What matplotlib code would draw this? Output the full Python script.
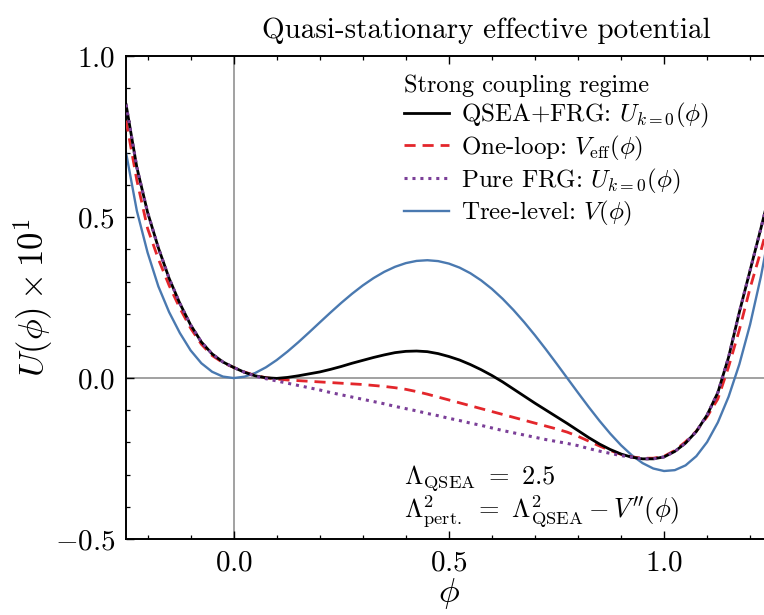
import numpy as np
import matplotlib
matplotlib.use("Agg")
import matplotlib.pyplot as plt
from matplotlib.ticker import MultipleLocator

# field values (shared grid for all curves)
phi = np.round(np.arange(-0.25, 1.2501, 0.025), 3)

# Tree-level V(phi), x10
tree_level = [
    0.70, 0.52, 0.39, 0.285, 0.205, 0.14, 0.086, 0.046, 0.0195, 0.0046,
    0.0, 0.0042, 0.0157, 0.0334, 0.0559, 0.0822, 0.111, 0.1415, 0.1727, 0.2036,
    0.2336, 0.2618, 0.2877, 0.3106, 0.3301, 0.3457, 0.3571, 0.364, 0.3661, 0.3634,
    0.3557, 0.3431, 0.3257, 0.3035, 0.277, 0.2462, 0.2116, 0.1737, 0.133, 0.09,
    0.0454, 0.0, -0.0454, -0.090, -0.1328, -0.1727, -0.2087, -0.2396, -0.2642, -0.281,
    -0.2888, -0.2861, -0.2713, -0.2427, -0.1989, -0.1379, -0.0579, 0.043, 0.1667, 0.3152,
    0.4908,
]

# QSEA+FRG U_{k=0}(phi), x10
qsea_frg = [
    0.85, 0.655, 0.515, 0.405, 0.31, 0.232, 0.165, 0.112, 0.075, 0.05,
    0.033, 0.018, 0.007, 0.001, -0.001, 0.002, 0.007, 0.013, 0.019, 0.027,
    0.036, 0.046, 0.055, 0.064, 0.072, 0.079, 0.083, 0.084, 0.082, 0.076,
    0.067, 0.056, 0.042, 0.026, 0.008, -0.012, -0.034, -0.056, -0.078, -0.099,
    -0.12, -0.141, -0.163, -0.185, -0.205, -0.222, -0.236, -0.246, -0.251, -0.251,
    -0.245, -0.228, -0.202, -0.166, -0.115, -0.045, 0.065, 0.205, 0.335, 0.465,
    0.60,
]

# One-loop V_eff(phi), x10
one_loop = [
    0.80, 0.615, 0.465, 0.37, 0.288, 0.217, 0.155, 0.105, 0.07, 0.048,
    0.033, 0.019, 0.008, 0.001, -0.003, -0.006, -0.008, -0.01, -0.012, -0.014,
    -0.016, -0.018, -0.02, -0.023, -0.026, -0.03, -0.035, -0.042, -0.05, -0.059,
    -0.068, -0.077, -0.086, -0.095, -0.104, -0.113, -0.122, -0.131, -0.14, -0.149,
    -0.158, -0.168, -0.181, -0.196, -0.211, -0.225, -0.237, -0.245, -0.249, -0.249,
    -0.243, -0.225, -0.198, -0.165, -0.12, -0.065, 0.035, 0.15, 0.28, 0.395,
    0.52,
]

# Pure FRG U_{k=0}(phi), x10
pure_frg = [
    0.85, 0.655, 0.515, 0.405, 0.31, 0.232, 0.165, 0.112, 0.075, 0.05,
    0.033, 0.018, 0.006, -0.002, -0.009, -0.016, -0.023, -0.030, -0.037, -0.045,
    -0.052, -0.059, -0.066, -0.073, -0.080, -0.088, -0.095, -0.102, -0.110, -0.117,
    -0.125, -0.132, -0.140, -0.147, -0.155, -0.163, -0.170, -0.177, -0.184, -0.191,
    -0.197, -0.203, -0.210, -0.219, -0.227, -0.234, -0.241, -0.246, -0.251, -0.251,
    -0.245, -0.228, -0.202, -0.166, -0.115, -0.045, 0.065, 0.205, 0.335, 0.465,
    0.60,
]

plt.rcParams['font.family'] = 'serif'
plt.rcParams['font.serif'] = ['cmr10']
plt.rcParams['mathtext.fontset'] = 'cm'
plt.rcParams['axes.formatter.use_mathtext'] = True

fig = plt.figure(figsize=(7.64, 6.15), dpi=100)
ax = fig.add_axes([0.165, 0.1236, 0.845, 0.785])

ax.axhline(0, color='#888888', lw=1.1, zorder=1)
ax.axvline(0, color='#888888', lw=1.1, zorder=1)

ax.plot(phi, qsea_frg, color='black', lw=2.0, label=r'QSEA+FRG: $U_{k=0}(\phi)$', zorder=4)
ax.plot(phi, one_loop, color='#e3262b', lw=2.0, ls=(0, (4, 2.5)), label=r'One-loop: $V_{\rm eff}(\phi)$', zorder=3)
ax.plot(phi, pure_frg, color='#7b3f98', lw=2.2, ls=(0, (1, 1.6)), label=r'Pure FRG: $U_{k=0}(\phi)$', zorder=5)
ax.plot(phi, tree_level, color='#4a79b0', lw=1.7, label=r'Tree-level: $V(\phi)$', zorder=2)

ax.set_xlim(-0.25, 1.25)
ax.set_ylim(-0.5, 1.0)
ax.xaxis.set_major_locator(MultipleLocator(0.5))
ax.xaxis.set_minor_locator(MultipleLocator(0.1))
ax.yaxis.set_major_locator(MultipleLocator(0.5))
ax.yaxis.set_minor_locator(MultipleLocator(0.1))
ax.tick_params(which='both', direction='in', top=True, right=True, labelsize=21)
ax.tick_params(which='major', length=6, width=1.0, pad=8)
ax.tick_params(which='minor', length=3, width=0.9)
for s in ax.spines.values():
    s.set_linewidth(1.4)

ax.set_xlabel(r'$\phi$', fontsize=25, labelpad=0)
ax.set_ylabel(r'$U(\phi)\times10^{1}$', fontsize=25, labelpad=0)
ax.set_title('Quasi-stationary effective potential', fontsize=21, pad=13, x=0.558)

leg = ax.legend(loc='upper left', bbox_to_anchor=(0.431, 0.962), frameon=False,
                fontsize=18, title='Strong coupling regime', title_fontsize=17.5,
                alignment='left', borderaxespad=0, borderpad=0,
                handlelength=1.8, handletextpad=0.45, labelspacing=0.15)

note = (r'$\Lambda_{\rm QSEA}\ =\ 2.5$' + '\n'
        + r"$\Lambda^2_{\rm pert.}\ =\ \Lambda^2_{\rm QSEA}-V''(\phi)$")
ax.text(0.431, 0.0455, note, transform=ax.transAxes, fontsize=19,
        va='baseline', ha='left', linespacing=1.0)

fig.savefig('out.png', dpi=100)
